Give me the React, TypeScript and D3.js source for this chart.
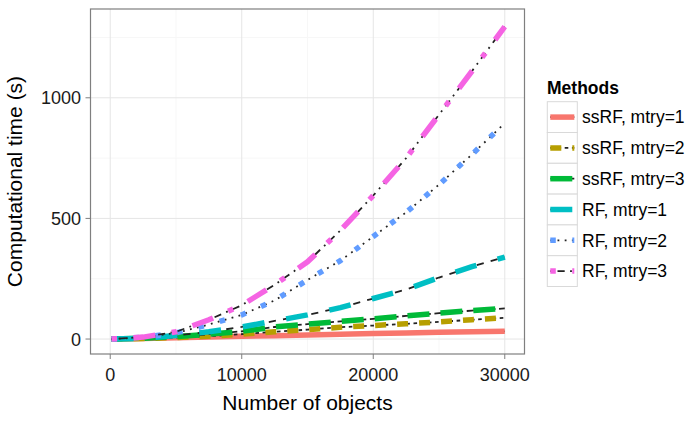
import React from 'react'
import * as d3 from 'd3'

// number of objects
const objects = [100, 2500, 5000, 7500, 10000, 12500, 15000, 17500, 20000, 22500, 25000, 27500, 30000]

// computational time (s) for each method
const ssRF1 = [0, 2, 5, 8, 12, 14, 17, 20, 23, 25, 28, 30, 32]
const ssRF2 = [0, 2, 6, 12, 20, 30, 39, 49, 56, 63, 71, 80, 88]
const ssRF3 = [0, 3, 10, 20, 32, 50, 62, 73, 84, 96, 107, 118, 127]
const RF1 = [0, 3, 15, 30, 50, 75, 100, 130, 168, 205, 255, 300, 340]
const RF2 = [0, 7, 25, 60, 100, 160, 245, 325, 425, 525, 640, 765, 895]
const RF3 = [0, 8, 30, 80, 140, 225, 320, 450, 595, 750, 930, 1110, 1295]

const methods = ['ssRF, mtry=1', 'ssRF, mtry=2', 'ssRF, mtry=3', 'RF, mtry=1', 'RF, mtry=2', 'RF, mtry=3']
const seriesValues = [ssRF1, ssRF2, ssRF3, RF1, RF2, RF3]

const xTicks = [0, 10000, 20000, 30000]
const xMinor = [5000, 15000, 25000]
const yTicks = [0, 500, 1000]
const yMinor = [250, 750, 1250]

const colors = ['#F8766D', '#B79F00', '#00BA38', '#00BFC4', '#619CFF', '#F564E3']
// ggplot linetype hex codes
const linetypes = ['solid', '22', '42', '44', '13', '1343']

const font = 'Liberation Sans, Arial, sans-serif'

function dash(lt: string, lwd: number) {
    if (lt === 'solid') return undefined
    return lt.split('').map(c => parseInt(c, 16) * lwd).join(',')
}

function App() {
    const width = 687
    const height = 422
    const left = 90.5, right = 524.5, top = 9, bottom = 354

    const x = d3.scaleLinear().domain([-1500, 31500]).range([left, right])
    const y = d3.scaleLinear().domain([-62, 1368]).range([bottom, top])

    const line = d3.line<number>()
        .x((d, i) => x(objects[i]))
        .y(d => y(d))

    const thick = 5.5
    const thin = 1.8

    const keyTop = 101.7
    const keyH = 30.8
    const keyX = 547.3
    const keyW = 30

    return (
        <svg width={width} height={height}
            style={{ position: 'absolute', left: 0, top: 0, background: '#fff' }}
            fontFamily={font}>
            <rect width={width} height={height} fill="#fff" />
            <g>
                {xMinor.map(v => <line key={'xm' + v} x1={x(v)} x2={x(v)} y1={top} y2={bottom} stroke="#F7F7F7" strokeWidth={1} />)}
                {yMinor.map(v => <line key={'ym' + v} x1={left} x2={right} y1={y(v)} y2={y(v)} stroke="#F7F7F7" strokeWidth={1} />)}
                {xTicks.map(v => <line key={'xg' + v} x1={x(v)} x2={x(v)} y1={top} y2={bottom} stroke="#E5E5E5" strokeWidth={1} />)}
                {yTicks.map(v => <line key={'yg' + v} x1={left} x2={right} y1={y(v)} y2={y(v)} stroke="#E5E5E5" strokeWidth={1} />)}
            </g>
            <g fill="none">
                {seriesValues.map((s, i) => (
                    <g key={i}>
                        <path d={line(s) || ''} stroke="#222" strokeWidth={thin}
                            strokeDasharray={dash(linetypes[i], thin)} />
                        <path d={line(s) || ''} stroke={colors[i]} strokeWidth={thick}
                            strokeDasharray={dash(linetypes[i], thick)} />
                    </g>
                ))}
            </g>
            <rect x={left} y={top} width={right - left} height={bottom - top} fill="none" stroke="#7F7F7F" strokeWidth={1.2} />
            <g>
                {xTicks.map(v => (
                    <g key={'xt' + v}>
                        <line x1={x(v)} x2={x(v)} y1={bottom} y2={bottom + 5} stroke="#7F7F7F" />
                        <text x={x(v)} y={381} textAnchor="middle" fontSize={18} fill="#1a1a1a">{v}</text>
                    </g>
                ))}
                {yTicks.map(v => (
                    <g key={'yt' + v}>
                        <line x1={left - 5} x2={left} y1={y(v)} y2={y(v)} stroke="#7F7F7F" />
                        <text x={81} y={y(v)} dy="0.36em" textAnchor="end" fontSize={18} fill="#1a1a1a">{v}</text>
                    </g>
                ))}
            </g>
            <text x={(left + right) / 2} y={410} textAnchor="middle" fontSize={21} fill="#000">Number of objects</text>
            <text transform={`translate(22, ${(top + bottom) / 2}) rotate(-90)`} textAnchor="middle" fontSize={21} fill="#000">Computational time (s)</text>
            <g>
                <text x={547} y={94} fontSize={17.5} fontWeight="bold" fill="#000">Methods</text>
                {methods.map((m, i) => {
                    const cy = keyTop + keyH * i + keyH / 2
                    const x1 = keyX + keyW * 0.1
                    const x2 = keyX + keyW * 0.9
                    return (
                        <g key={m}>
                            <rect x={keyX} y={keyTop + keyH * i} width={keyW} height={keyH} fill="#fff" stroke="#D9D9D9" strokeWidth={1} />
                            <line x1={x1} x2={x2} y1={cy} y2={cy} stroke="#222" strokeWidth={thin}
                                strokeDasharray={dash(linetypes[i], thin)} />
                            <line x1={x1} x2={x2} y1={cy} y2={cy} stroke={colors[i]} strokeWidth={thick}
                                strokeDasharray={dash(linetypes[i], thick)} />
                            <text x={582} y={cy} dy="0.36em" fontSize={17.5} fill="#000">{m}</text>
                        </g>
                    )
                })}
            </g>
        </svg>
    )
}

export default App
